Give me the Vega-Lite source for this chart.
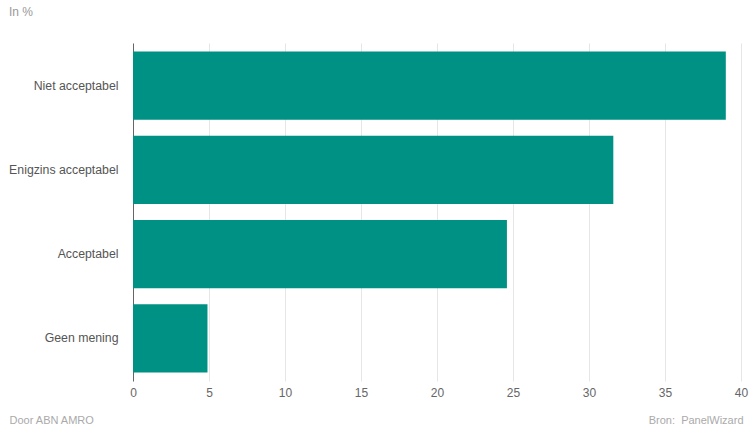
{
  "$schema": "https://vega.github.io/schema/vega-lite/v6.json",
  "width": 608,
  "height": 338,
  "autosize": {"type": "none"},
  "padding": {"left": 133, "top": 43, "right": 12, "bottom": 51},
  "background": "white",
  "config": {"view": {"stroke": null}, "font": "Liberation Sans"},
  "title": {
    "text": "In %",
    "anchor": "start",
    "frame": "group",
    "dx": -124,
    "offset": 24,
    "fontSize": 12,
    "fontWeight": "normal",
    "color": "#999999",
    "font": "Liberation Sans"
  },
  "data": {
    "values": [
      {"categorie": "Niet acceptabel", "waarde": 39.0},
      {"categorie": "Enigzins acceptabel", "waarde": 31.6},
      {"categorie": "Acceptabel", "waarde": 24.6},
      {"categorie": "Geen mening", "waarde": 4.9}
    ]
  },
  "mark": {"type": "bar", "color": "#009185"},
  "encoding": {
    "y": {
      "field": "categorie",
      "type": "nominal",
      "sort": null,
      "scale": {"paddingInner": 0.19, "paddingOuter": 0.1},
      "axis": {
        "title": "Bron:\u00a0 PanelWizard",
        "titleAngle": 0,
        "titleX": 610,
        "titleY": 377,
        "titleAlign": "right",
        "titleBaseline": "middle",
        "titleColor": "#aaaaaa",
        "titleFontSize": 11,
        "titleFontWeight": "normal",
        "titleFont": "Liberation Sans",
        "labelColor": "#555555",
        "labelFontSize": 12.3,
        "labelFont": "Liberation Sans",
        "labelPadding": 15,
        "ticks": false,
        "domainColor": "#666666",
        "domainWidth": 1
      }
    },
    "x": {
      "field": "waarde",
      "type": "quantitative",
      "scale": {"domain": [0, 40], "nice": false},
      "axis": {
        "values": [0, 5, 10, 15, 20, 25, 30, 35, 40],
        "title": "Door ABN AMRO",
        "titleX": -124,
        "titleY": 39,
        "titleAlign": "left",
        "titleBaseline": "middle",
        "titleColor": "#aaaaaa",
        "titleFontSize": 11,
        "titleFontWeight": "normal",
        "titleFont": "Liberation Sans",
        "labelColor": "#666666",
        "labelFontSize": 12,
        "labelFont": "Liberation Sans",
        "labelPadding": 6,
        "labelFlush": false,
        "ticks": false,
        "domain": false,
        "grid": true,
        "gridColor": "#e6e6e6",
        "gridWidth": 1
      }
    }
  }
}
